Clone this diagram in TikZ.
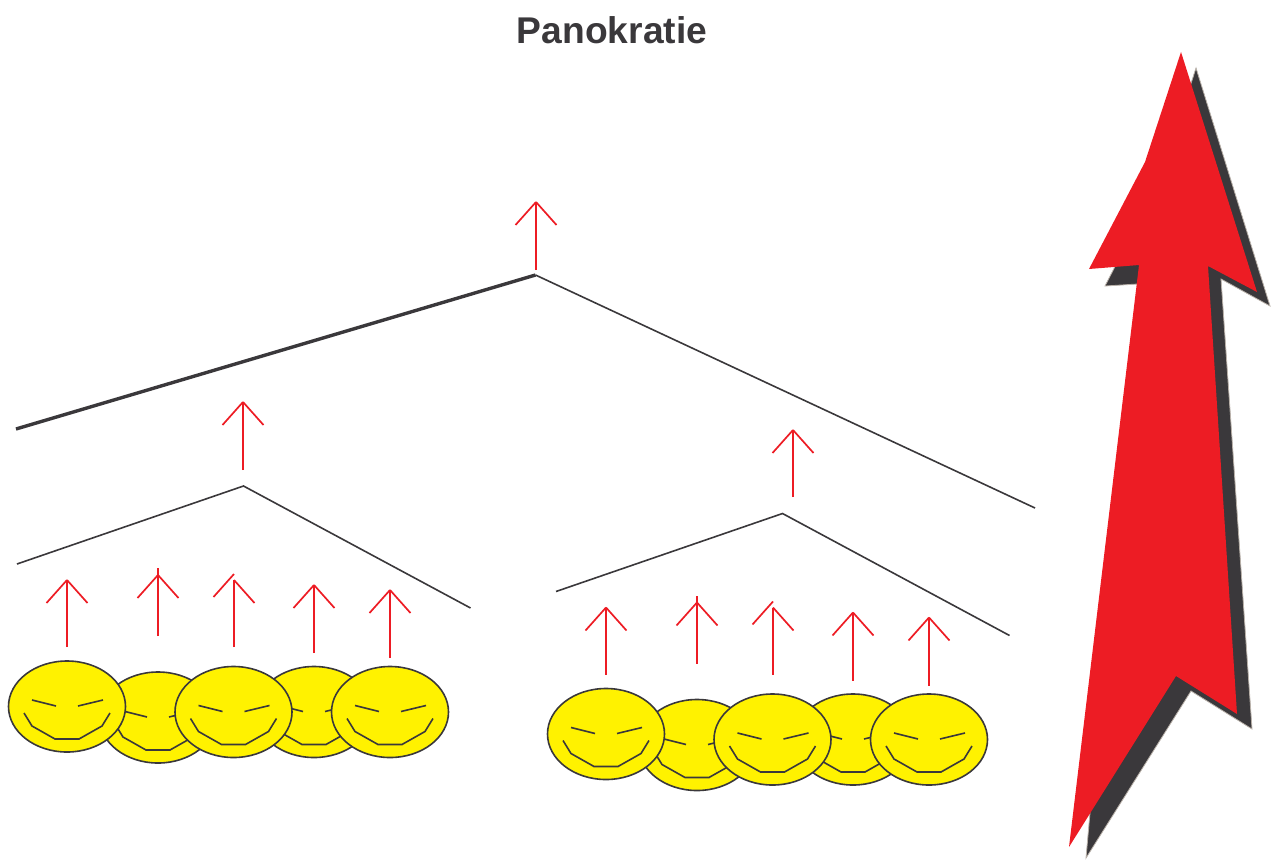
\documentclass[tikz,border=0pt]{standalone}
\usepackage{fontspec}
\setmainfont{Liberation Sans}
\usepackage{tikz}
\usetikzlibrary{shapes.geometric}
\definecolor{inkdark}{HTML}{3A383B}
\definecolor{facefill}{HTML}{FFF200}
\definecolor{powerred}{HTML}{ED1C24}
\definecolor{shadowedge}{HTML}{B9B1A9}
% name, x, bottom, top of shaft, apex of left barb, apex of right barb
\newcommand\upmark[6]{
  \coordinate (#1-bot) at (#2,#3);
  \coordinate (#1-top) at (#2,#4);
  \coordinate (#1-l) at (#2-20.5,#5+23);
  \coordinate (#1-la) at (#2,#5);
  \coordinate (#1-r) at (#2+20.5,#6+23);
  \coordinate (#1-ra) at (#2,#6);
  \draw[redline] (#1-bot) -- (#1-top);
  \draw[redline] (#1-l) -- (#1-la);
  \draw[redline] (#1-r) -- (#1-ra);
}

\begin{document}
\begin{tikzpicture}[
    x=1pt, y=-1pt,
    redline/.style={draw=powerred, line width=1.7pt},
    roof/.style={draw=inkdark, line width=1.6pt},
    roofthick/.style={draw=inkdark, line width=3.4pt},
    face/.style={
        ellipse,
        draw=inkdark,
        line width=1.6pt,
        fill=facefill,
        minimum width=117pt,
        minimum height=91pt,
        inner sep=0,
      },
    smiley/.pic={
        \node[face] (-body) at (0,0) {};
        \draw[roof] (-35,-6.5) -- (-11,-0.5);
        \draw[roof] (11,-0.5) -- (36,-6.5);
        \draw[roof] (-43,6.5) -- (-35,19.5) -- (-12,32.5) -- (12,32.5) -- (35,19.5) -- (43,6.5);
      },
  ]
  \useasboundingbox (0,0) rectangle (1271,859);

  \node[font=\bfseries, text=inkdark, inner sep=0] (title) at (612,30)
  {\fontsize{37.2}{37.2}\selectfont Panokratie};

  % big arrow
  \fill[inkdark, draw=shadowedge, line width=0.8pt]
  (1196,68) -- (1270,306) -- (1221,279) -- (1252,729) -- (1191,691) -- (1086,858)
  -- (1100,700) -- (1154,283) -- (1105,286) -- (1160,179) -- cycle;
  \fill[powerred]
  (1181,52) -- (1257,292) -- (1208,266) -- (1237,714) -- (1176,676) -- (1069,847)
  -- (1139,265) -- (1089,269) -- (1145,162) -- cycle;

  % roofs
  \coordinate (top) at (535.5,275);
  \coordinate (topl) at (16,429);
  \coordinate (topr) at (1035,508);
  \draw[roofthick] (topl) -- (top);
  \draw[roof] (top) -- (topr);

  \upmark{m0}{536}{270}{202}{202}{202}
  \upmark{m1}{243}{470}{402}{402}{402}
  \upmark{m2}{793}{497}{430}{430}{430}

  \foreach \g/\dx/\dy in {a/0/0, b/539/27.5} {
      \begin{scope}[shift={(\dx,\dy)}]
        \coordinate (\g-top) at (243.5,486);
        \coordinate (\g-l) at (17,564);
        \coordinate (\g-r) at (470.5,608);
        \draw[roof] (\g-l) -- (\g-top) -- (\g-r);

        \upmark{\g1}{67}{647}{580}{580}{580}
        \upmark{\g2}{158}{636}{568}{575}{575}
        \upmark{\g3}{234}{647}{580}{574}{580}
        \upmark{\g4}{314}{653}{585}{585}{585}
        \upmark{\g5}{390}{658}{590}{590}{590}

        \foreach \k/\x/\y in {2/158/717.5, 4/314/712, 1/67/706.5, 3/233.5/712, 5/390/712} {
            \pic (\g-face\k) at (\x,\y) {smiley};
          }
      \end{scope}
    }
\end{tikzpicture}
\end{document}
